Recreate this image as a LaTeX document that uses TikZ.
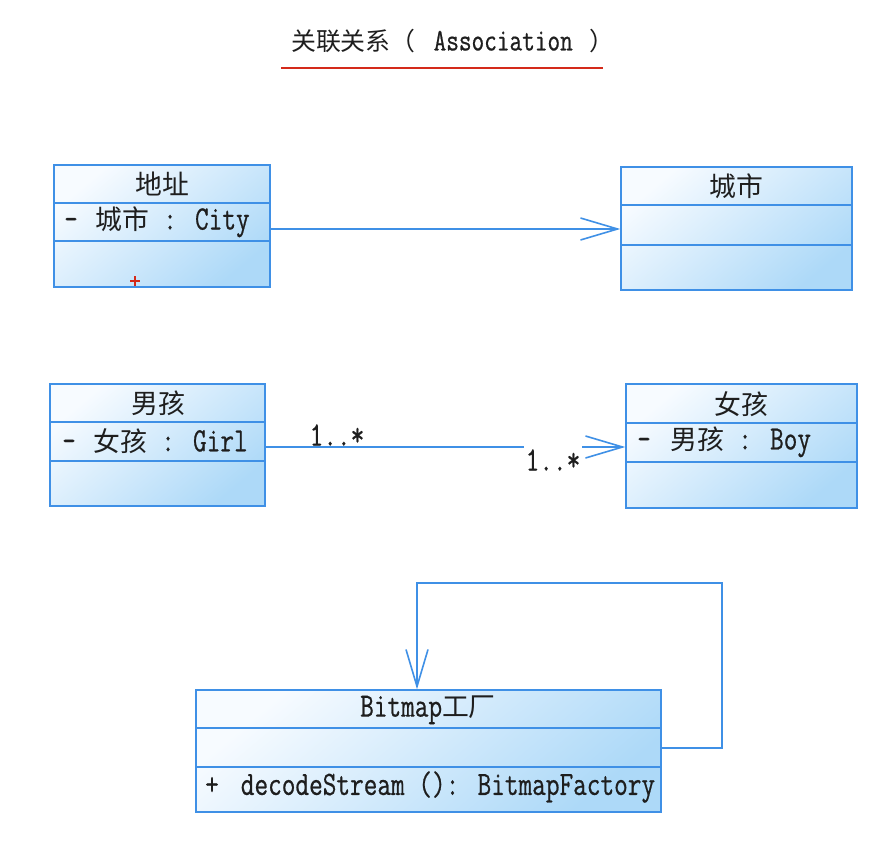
\documentclass[tikz,border=0pt]{standalone}
\usepackage{fontspec}
\setmainfont{Latin Modern Mono}[FakeStretch=0.78,FakeBold=0.6]
\newfontfamily\cjk{Noto Sans CJK SC}[Scale=0.79]
\usetikzlibrary{arrows.meta,calc}
\definecolor{cborder}{HTML}{3F90E6}
\definecolor{fillA}{HTML}{F7FBFF}
\definecolor{fillB}{HTML}{ADD9F8}
\definecolor{ctext}{HTML}{1E1E1E}
\definecolor{cred}{HTML}{D42A1A}
\begin{document}
\begin{tikzpicture}[x=1pt,y=-1pt,
  cls/.style={draw=cborder, line width=1.4pt, rectangle, inner sep=0pt,
    top color=fillA, bottom color=fillB, shading angle=40},
  divider/.style={draw=cborder, line width=1.4pt},
  hdr/.style={inner sep=0pt, text=ctext, font=\fontsize{34pt}{38pt}\selectfont},
  attr/.style={inner sep=0pt, anchor=west, text=ctext, font=\fontsize{34pt}{38pt}\selectfont},
  mult/.style={inner sep=2pt, text=ctext, font=\fontsize{34pt}{38pt}\selectfont},
  assoc/.style={draw=cborder, line width=1.6pt, -{Straight Barb[length=37pt,width=22pt,line width=1.6pt]}},
]
\fill[white] (0,0) rectangle (875,843);
\useasboundingbox (0,0) rectangle (875,843);

% title
\node[inner sep=0pt, anchor=west, text=ctext, font=\fontsize{31.5pt}{34pt}\selectfont] (title) at (291,41)
  {{\cjk 关联关系（}\kern18pt Association\kern17pt{\cjk ）}};
\coordinate (ulA) at (281,68);
\coordinate (ulB) at (603,68);
\draw[cred, line width=2.6pt] (ulA) -- (ulB);

% classes
\node[cls, minimum width=216pt, minimum height=122pt] (addr) at (162,226) {};
\node[cls, minimum width=231pt, minimum height=123pt] (city) at (736.5,228.5) {};
\node[cls, minimum width=215pt, minimum height=122pt] (boy) at (157.5,445) {};
\node[cls, minimum width=231pt, minimum height=124pt] (girl) at (741.5,446) {};
\node[cls, minimum width=465pt, minimum height=122pt] (bmp) at (428.5,751) {};

% dividers
\draw[divider] (addr.west |- 0,203) -- (addr.east |- 0,203);
\draw[divider] (addr.west |- 0,241) -- (addr.east |- 0,241);
\draw[divider] (city.west |- 0,205) -- (city.east |- 0,205);
\draw[divider] (city.west |- 0,245) -- (city.east |- 0,245);
\draw[divider] (boy.west |- 0,422) -- (boy.east |- 0,422);
\draw[divider] (boy.west |- 0,461) -- (boy.east |- 0,461);
\draw[divider] (girl.west |- 0,423) -- (girl.east |- 0,423);
\draw[divider] (girl.west |- 0,462) -- (girl.east |- 0,462);
\draw[divider] (bmp.west |- 0,728) -- (bmp.east |- 0,728);
\draw[divider] (bmp.west |- 0,767) -- (bmp.east |- 0,767);

% texts
\node[hdr] (addrT) at (162,184) {\cjk 地址};
\node[attr] (addrA) at (64,222) {-\kern18pt{\cjk 城市} : City};
\node[hdr] (cityT) at (736,186) {\cjk 城市};
\node[hdr] (boyT) at (158,403) {\cjk 男孩};
\node[attr] (boyA) at (62,441) {-\kern18pt{\cjk 女孩} : Girl};
\node[hdr] (girlT) at (741,404) {\cjk 女孩};
\node[attr] (girlA) at (637,442) {-\kern20pt{\cjk 男孩} : Boy};
\node[hdr] (bmpT) at (428,710) {Bitmap{\cjk 工厂}};
\begin{scope}
  \clip ($(bmp.south west)+(1,0)$) rectangle ($(bmp.north east)+(-1,0)$);
  \node[attr] (bmpM) at (205,787) {+\kern22pt decodeStream (): BitmapFactory};
\end{scope}

% red cursor mark
\coordinate (crA) at (130,281);
\coordinate (crB) at (140,281);
\coordinate (crC) at (135,276);
\coordinate (crD) at (135,286);
\draw[cred, line width=1.3pt] (crA) -- (crB) (crC) -- (crD);

% associations
\draw[assoc] (addr.east |- 0,229) -- (city.west |- 0,229);
\draw[assoc] (boy.east |- 0,447) -- (girl.west |- 0,447);
\node[mult] (m1) at (337,435) {1..*};
\node[mult, fill=white, minimum height=34pt] (m2) at (553,460) {1..*};

\coordinate (loopR) at (722,583);
\coordinate (loopL) at (417,583);
\draw[assoc] (bmp.east |- 0,748) -| (loopR) -- (loopL) -- (loopL |- bmp.north);
\end{tikzpicture}
\end{document}
